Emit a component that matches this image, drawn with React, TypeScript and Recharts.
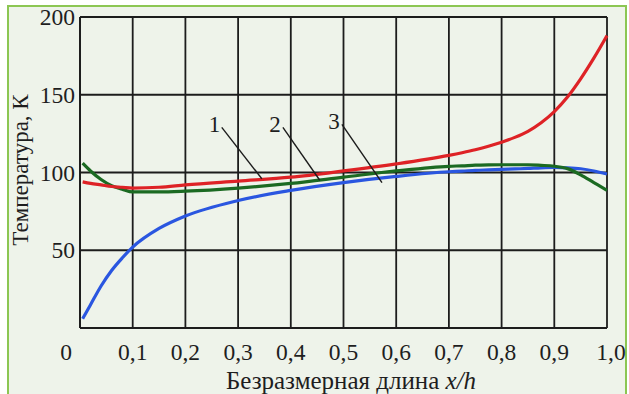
import React from "react";
import {
  LineChart,
  Line,
  XAxis,
  YAxis,
  CartesianGrid,
  ReferenceLine,
  ReferenceDot,
} from "recharts";

const xs = [0.005, 0.02, 0.04, 0.06, 0.08, 0.1, 0.15, 0.2, 0.3, 0.4, 0.5, 0.6, 0.7, 0.725, 0.75, 0.775, 0.8, 0.825, 0.85, 0.875, 0.9, 0.925, 0.95, 0.975, 1.0];
const curve1 = [94, 93, 92, 91, 90.5, 90, 90.5, 92, 94.5, 97, 101, 105.5, 111, 112.7, 114.6, 116.9, 119.5, 122.6, 126.5, 132, 139.2, 148.5, 160.2, 173.5, 188];
const curve2 = [106, 101, 95.5, 91.5, 89.3, 87.5, 87.5, 88, 90, 93, 97, 101, 104, 104.3, 104.7, 104.9, 105, 105, 105, 104.6, 104, 102.5, 98.5, 93.5, 88.5];
const curve3 = [6, 15, 27, 37, 45, 52, 64, 72, 82, 88.5, 93.5, 97.5, 100.5, 100.9, 101.4, 101.7, 102, 102.3, 102.6, 103, 103.2, 103, 102.4, 101, 99];

const xTicks = [0, 0.1, 0.2, 0.3, 0.4, 0.5, 0.6, 0.7, 0.8, 0.9, 1.0];
const yTicks = [50, 100, 150, 200];
const xTitle = "Безразмерная длина ";
const xTitleItalic = "x/h";
const yTitle = "Температура, К";

const curveLabels = [
  { name: "1", tx: 0.255, ty: 131, from: { x: 0.269, y: 129 }, to: { x: 0.345, y: 96 } },
  { name: "2", tx: 0.37, ty: 131, from: { x: 0.385, y: 129 }, to: { x: 0.455, y: 95 } },
  { name: "3", tx: 0.482, ty: 133, from: { x: 0.497, y: 131 }, to: { x: 0.573, y: 93.5 } },
];

const data = xs.map((x, i) => ({ x, c1: curve1[i], c2: curve2[i], c3: curve3[i] }));

const FONT = "'Liberation Serif', 'DejaVu Serif', serif";
const TXT = "#1e1e1e";

const fmt = (v: number) => (v === 0 ? "0" : v.toFixed(1).replace(".", ","));

const XTick = (props: any) => {
  const { x, payload } = props;
  const v = payload.value;
  const shift = v === 0 ? -14 : v === 1 ? 4 : 0;
  return (
    <text x={x + shift} y={360} textAnchor="middle" fontFamily={FONT} fontSize={23.5} fill={TXT}>
      {fmt(v)}
    </text>
  );
};

const YTick = (props: any) => {
  const { y, payload } = props;
  return (
    <text x={75} y={y + 8} textAnchor="end" fontFamily={FONT} fontSize={23.5} fill={TXT}>
      {payload.value}
    </text>
  );
};

export default function App() {
  return (
    <div style={{ position: "absolute", left: 0, top: 0, width: 629, height: 394, background: "#ffffff", overflow: "hidden" }}>
      <div
        style={{
          position: "absolute",
          left: 7,
          top: 5,
          width: 616,
          height: 400,
          border: "2px solid #8cc653",
          background: "#eef3ea",
        }}
      />
      <div style={{ position: "absolute", left: 0, top: 0 }}>
        <LineChart width={629} height={394} data={data} margin={{ top: 17, right: 22, left: 0, bottom: 0 }}>
          <CartesianGrid stroke="#1c1c1c" strokeWidth={1.8} />
          <XAxis
            dataKey="x"
            type="number"
            domain={[0, 1]}
            ticks={xTicks}
            height={66}
            axisLine={{ stroke: "#1c1c1c", strokeWidth: 1.8 }}
            tickLine={false}
            tick={<XTick />}
            interval={0}
            label={{
              content: () => (
                <text x={351} y={389} textAnchor="middle" fontFamily={FONT} fontSize={25} fill={TXT}>
                  {xTitle}
                  <tspan fontStyle="italic">{xTitleItalic}</tspan>
                </text>
              ),
            }}
          />
          <YAxis
            type="number"
            domain={[0, 200]}
            ticks={yTicks}
            width={80}
            axisLine={{ stroke: "#1c1c1c", strokeWidth: 1.8 }}
            tickLine={false}
            tick={<YTick />}
            interval={0}
            label={{
              content: () => (
                <text
                  x={20}
                  y={170}
                  transform="rotate(-90 20 170)"
                  textAnchor="middle"
                  dominantBaseline="central"
                  fontFamily={FONT}
                  fontSize={23}
                  fill={TXT}
                >
                  {yTitle}
                </text>
              ),
            }}
          />
          <Line dataKey="c3" type="monotone" stroke="#2a56e0" strokeWidth={3.2} dot={false} isAnimationActive={false} />
          <Line dataKey="c2" type="monotone" stroke="#1b6a22" strokeWidth={3.2} dot={false} isAnimationActive={false} />
          <Line dataKey="c1" type="monotone" stroke="#de2226" strokeWidth={3.2} dot={false} isAnimationActive={false} />
          {curveLabels.map((c) => (
            <ReferenceLine
              key={"l" + c.name}
              segment={[c.from, c.to]}
              stroke="#1c1c1c"
              strokeWidth={1.4}
              ifOverflow="visible"
            />
          ))}
          {curveLabels.map((c) => (
            <ReferenceDot
              key={"d" + c.name}
              x={c.tx}
              y={c.ty}
              r={0}
              fill="none"
              stroke="none"
              ifOverflow="visible"
              label={{ value: c.name, position: "center", fontFamily: FONT, fontSize: 23, fill: TXT }}
            />
          ))}
        </LineChart>
      </div>
    </div>
  );
}
